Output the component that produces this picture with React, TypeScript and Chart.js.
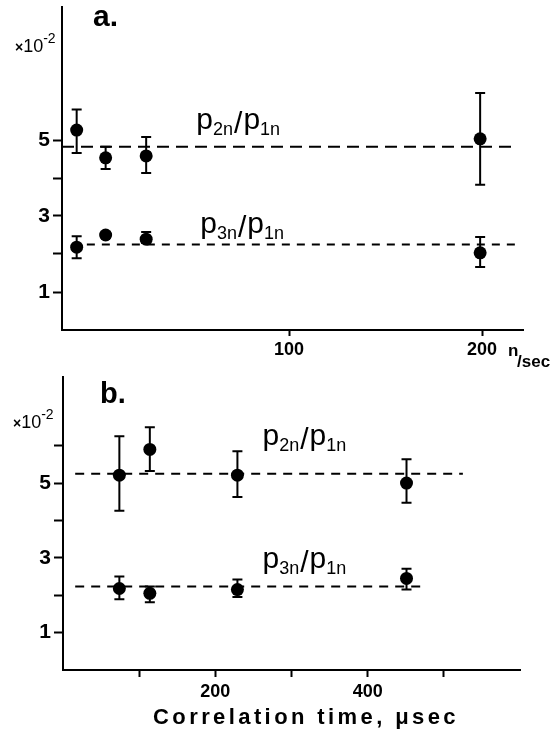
import React, { useEffect, useRef } from "react";
import { Chart, registerables } from "chart.js";
Chart.register(...registerables);

// ---- Panel a: rate (n/sec) ----
const rateA = [-10, 5, 26, 199];
const p2A = [5.26, 4.53, 4.58, 5.03];
const p2ALo = [4.66, 4.24, 4.13, 3.82];
const p2AHi = [5.8, 4.82, 5.08, 6.24];
const p3A = [2.18, 2.5, 2.39, 2.03];
const p3ALo = [1.89, 2.42, 2.29, 1.66];
const p3AHi = [2.47, 2.58, 2.58, 2.45];
const fitP2A_x = [-17.6, 216.5];
const fitP2A_y = [4.82, 4.82];
const fitP3A_x = [-12.5, 217.5];
const fitP3A_y = [2.25, 2.25];
const xTicksA = [100, 200];
const yTicksA = [1, 2, 3, 4, 5];

// ---- Panel b: correlation time (µsec) ----
const timeB = [74, 114, 229, 451];
const p2B = [5.21, 5.9, 5.21, 5.0];
const p2BLo = [4.26, 5.32, 4.63, 4.47];
const p2BHi = [6.25, 6.49, 5.85, 5.64];
const p3B = [2.18, 2.05, 2.15, 2.45];
const p3BLo = [1.89, 1.81, 1.95, 2.15];
const p3BHi = [2.5, 2.23, 2.42, 2.71];
const fitP2B_x = [16, 525];
const fitP2B_y = [5.25, 5.25];
const fitP3B_x = [16, 472];
const fitP3B_y = [2.23, 2.23];
const xTicksB = [100, 200, 300, 400, 500];
const xLabelsB = [200, 400];
const yTicksB = [1, 2, 3, 4, 5, 6];

const FONT = "'Liberation Sans', Arial, sans-serif";

const errorBarPlugin = {
  id: "errbars",
  afterDatasetsDraw(chart: any) {
    const ctx = chart.ctx;
    const xs = chart.scales.x;
    const ys = chart.scales.y;
    chart.data.datasets.forEach((ds: any) => {
      if (!ds.errLo) return;
      ds.data.forEach((pt: any, i: number) => {
        const px = xs.getPixelForValue(pt.x);
        const yLo = ys.getPixelForValue(ds.errLo[i]);
        const yHi = ys.getPixelForValue(ds.errHi[i]);
        ctx.save();
        ctx.strokeStyle = "#000";
        ctx.lineWidth = 2;
        ctx.beginPath();
        ctx.moveTo(px, yLo);
        ctx.lineTo(px, yHi);
        ctx.moveTo(px - 5, yLo);
        ctx.lineTo(px + 5, yLo);
        ctx.moveTo(px - 5, yHi);
        ctx.lineTo(px + 5, yHi);
        ctx.stroke();
        ctx.restore();
      });
    });
  },
};

function drawRatio(ctx: any, x: number, y: number, a: string, b: string) {
  ctx.save();
  ctx.fillStyle = "#000";
  ctx.textBaseline = "alphabetic";
  ctx.textAlign = "left";
  const big = `30px ${FONT}`;
  const small = `18px ${FONT}`;
  let cx = x;
  ctx.font = big;
  ctx.fillText("p", cx, y);
  cx += ctx.measureText("p").width;
  ctx.font = small;
  ctx.fillText(a, cx, y + 6);
  cx += ctx.measureText(a).width + 1;
  ctx.font = big;
  ctx.fillText("/", cx, y + 4);
  cx += ctx.measureText("/").width + 1;
  ctx.fillText("p", cx, y);
  cx += ctx.measureText("p").width;
  ctx.font = small;
  ctx.fillText(b, cx, y + 6);
  ctx.restore();
}

function drawExp(ctx: any, x: number, y: number) {
  ctx.save();
  ctx.fillStyle = "#000";
  ctx.textAlign = "left";
  ctx.textBaseline = "alphabetic";
  ctx.font = `bold 14px ${FONT}`;
  ctx.fillText("\u00d7", x, y);
  let cx = x + ctx.measureText("\u00d7").width;
  ctx.font = `18px ${FONT}`;
  ctx.fillText("10", cx, y);
  cx += ctx.measureText("10").width;
  ctx.font = `14px ${FONT}`;
  ctx.fillText("-2", cx, y - 9);
  ctx.restore();
}

function makeChart(canvas: HTMLCanvasElement, panel: "a" | "b") {
  const isA = panel === "a";
  const xs = isA ? rateA : timeB;
  const ds = (ys: number[]) => ys.map((v, i) => ({ x: xs[i], y: v }));
  const line = (lx: number[], ly: number[], dash: number[]) => ({
    type: "line",
    data: lx.map((v, i) => ({ x: v, y: ly[i] })),
    borderColor: "#000",
    borderWidth: 2,
    borderDash: dash,
    pointRadius: 0,
    fill: false,
  });
  const points = (ys: number[], lo: number[], hi: number[]) => ({
    type: "scatter",
    data: ds(ys),
    errLo: lo,
    errHi: hi,
    pointRadius: 6.5,
    pointBackgroundColor: "#000",
    pointBorderColor: "#000",
    pointBorderWidth: 0,
  });
  const datasets: any[] = isA
    ? [
        line(fitP2A_x, fitP2A_y, [12, 7]),
        line(fitP3A_x, fitP3A_y, [8, 7]),
        points(p2A, p2ALo, p2AHi),
        points(p3A, p3ALo, p3AHi),
      ]
    : [
        line(fitP2B_x, fitP2B_y, [9, 7]),
        line(fitP3B_x, fitP3B_y, [9, 7]),
        points(p2B, p2BLo, p2BHi),
        points(p3B, p3BLo, p3BHi),
      ];

  const textPlugin = {
    id: "texts" + panel,
    afterDraw(chart: any) {
      const ctx = chart.ctx;
      const sx = chart.scales.x;
      const sy = chart.scales.y;
      ctx.save();
      ctx.fillStyle = "#000";
      if (isA) {
        drawRatio(ctx, sx.getPixelForValue(52), sy.getPixelForValue(5.3), "2n", "1n");
        drawRatio(ctx, sx.getPixelForValue(54), sy.getPixelForValue(2.55), "3n", "1n");
        ctx.font = `bold 30px ${FONT}`;
        ctx.textAlign = "left";
        ctx.textBaseline = "alphabetic";
        ctx.fillText("a.", 93, 26);
        drawExp(ctx, 15, 52);
        ctx.font = `bold 17px ${FONT}`;
        ctx.fillText("n", 508, 356);
        ctx.fillText("/sec", 517, 367);
      } else {
        drawRatio(ctx, sx.getPixelForValue(262), sy.getPixelForValue(6.02), "2n", "1n");
        drawRatio(ctx, sx.getPixelForValue(262), sy.getPixelForValue(2.72), "3n", "1n");
        ctx.font = `bold 29px ${FONT}`;
        ctx.textAlign = "left";
        ctx.textBaseline = "alphabetic";
        ctx.fillText("b.", 100, 33);
        drawExp(ctx, 13, 58);
        ctx.font = `bold 22px ${FONT}`;
        ctx.textAlign = "center";
        (ctx as any).letterSpacing = "3.4px";
        ctx.fillText("Correlation time, \u03bcsec", 306, 354);
        (ctx as any).letterSpacing = "0px";
      }
      ctx.restore();
    },
  };

  const yTicks = isA ? yTicksA : yTicksB;
  const xTicks = isA ? xTicksA : xTicksB;

  return new Chart(canvas, {
    type: "scatter",
    data: { datasets },
    plugins: [errorBarPlugin, textPlugin],
    options: {
      animation: false,
      responsive: false,
      devicePixelRatio: 1,
      layout: {
        padding: isA
          ? { left: 0, top: 7, right: 30, bottom: 0 }
          : { left: 0, top: 5, right: 33, bottom: 0 },
      },
      plugins: { legend: { display: false }, tooltip: { enabled: false } },
      scales: {
        x: {
          type: "linear",
          min: isA ? -17.6 : 0,
          max: isA ? 221.2 : 600,
          afterBuildTicks: (s: any) => {
            s.ticks = xTicks.map((v) => ({ value: v }));
          },
          afterFit: (s: any) => {
            s.height = isA ? 40 : 68;
            s.paddingLeft = 0;
            s.paddingRight = 0;
          },
          grid: {
            drawOnChartArea: false,
            drawTicks: true,
            tickLength: isA ? 6 : 7,
            tickWidth: 2,
            tickColor: "#000",
          },
          border: { display: true, color: "#000", width: 2 },
          ticks: {
            color: "#000",
            padding: isA ? 3 : 4,
            maxRotation: 0,
            autoSkip: false,
            font: { family: FONT, size: 18, weight: "bold" },
            callback: (v: any) =>
              isA ? String(v) : xLabelsB.includes(Number(v)) ? String(v) : "",
          },
        },
        y: {
          type: "linear",
          min: 0,
          max: isA ? 8.5 : 7.85,
          afterBuildTicks: (s: any) => {
            s.ticks = yTicks.map((v) => ({ value: v }));
          },
          afterFit: (s: any) => {
            s.width = isA ? 62 : 63;
            s.paddingTop = 0;
            s.paddingBottom = 0;
          },
          grid: {
            drawOnChartArea: false,
            drawTicks: true,
            tickLength: 9,
            tickWidth: 2,
            tickColor: "#000",
          },
          border: { display: true, color: "#000", width: 2 },
          ticks: {
            color: "#000",
            padding: 3,
            autoSkip: false,
            font: { family: FONT, size: 21, weight: "bold" },
            callback: (v: any) => (Number(v) % 2 === 1 ? String(v) : ""),
          },
        },
      },
    } as any,
  } as any);
}

export default function App() {
  const refA = useRef<HTMLCanvasElement>(null);
  const refB = useRef<HTMLCanvasElement>(null);
  useEffect(() => {
    const a = makeChart(refA.current!, "a");
    const b = makeChart(refB.current!, "b");
    return () => {
      a.destroy();
      b.destroy();
    };
  }, []);
  return (
    <div
      style={{
        position: "absolute",
        left: 0,
        top: 0,
        width: 553,
        height: 738,
        background: "#fff",
        overflow: "hidden",
      }}
    >
      <canvas
        ref={refA}
        width={553}
        height={370}
        style={{ position: "absolute", left: 0, top: 0, width: 553, height: 370 }}
      />
      <canvas
        ref={refB}
        width={553}
        height={368}
        style={{ position: "absolute", left: 0, top: 370, width: 553, height: 368 }}
      />
    </div>
  );
}
